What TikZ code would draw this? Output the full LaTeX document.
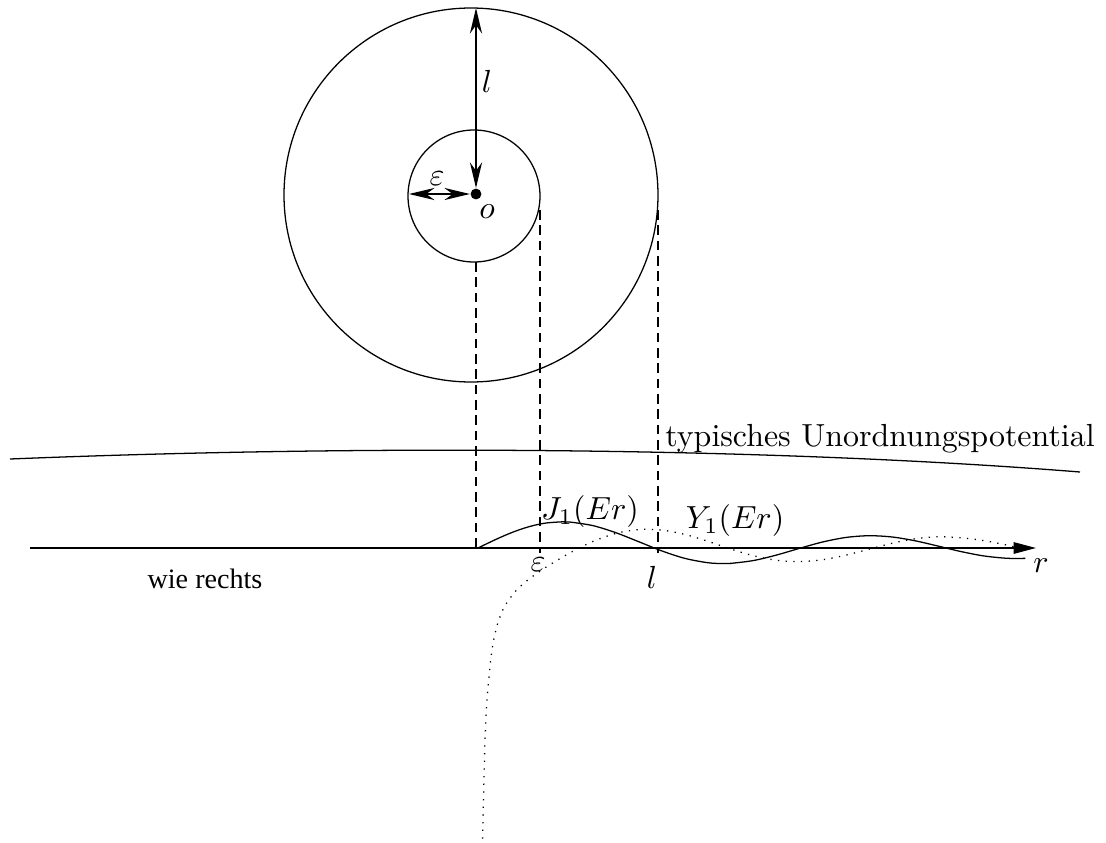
\documentclass[tikz,border=0pt]{standalone}
\usepackage{fontspec}
\newfontfamily\wiefont{Liberation Serif}
\usetikzlibrary{arrows.meta}

\begin{document}
\begin{tikzpicture}[x=0.011cm, y=-0.011cm,
  label/.style={inner sep=1pt},
  dot/.style={circle, fill, inner sep=0pt, minimum size=3.4pt},
  dimarrow/.style={{Stealth[length=8pt,width=3.8pt]}-{Stealth[length=8pt,width=3.8pt]}, thin},
  axisarrow/.style={-{Triangle[length=7pt,width=3.6pt]}, thin},
  proj/.style={thin, dash pattern=on 3pt off 1.8pt}
]

\useasboundingbox (0,0) rectangle (1106,843);

% circles round o
\node[dot] (o) at (476,194) {};
\draw (471,195) circle[radius=187];
\draw (474,196) circle[radius=66];

\coordinate (ltop) at (476,8);
\coordinate (epsleft) at (409,194);
\draw[dimarrow] (ltop) -- (o);
\draw[dimarrow] (epsleft) -- (o);

\node[label] (lupper) at (487,81) {$l$};
\node[label] (epsupper) at (437,179) {$\varepsilon$};
\node[label] (olab) at (487,212) {$o$};

% potential
\coordinate (potL) at (10,459);
\coordinate (potR) at (1080,472);
\draw (potL) .. controls (380,444) and (780,448) .. (potR);
\node[label] (potlab) at (880,439) {typisches Unordnungspotential};

% r axis
\coordinate (axL) at (30,548);
\coordinate (axR) at (1036,548);
\draw[axisarrow] (axL) -- (axR);
\node[label] (rlab) at (1041,566) {$r$};
\node[label] (wie) at (205,579) {\wiefont\fontsize{8.8}{10}\selectfont wie rechts};
\node[label] (epslow) at (538,565) {$\varepsilon$};
\node[label] (llow) at (652,577) {$l$};

% projections
\coordinate (p1a) at (476,262);
\coordinate (p1b) at (476,553);
\coordinate (p2a) at (540,210);
\coordinate (p2b) at (540,553);
\coordinate (p3a) at (658,210);
\coordinate (p3b) at (658,553);
\draw[proj] (p1a) -- (p1b);
\draw[proj] (p2a) -- (p2b);
\draw[proj] (p3a) -- (p3b);

% Bessel functions
\begin{scope}[shift={(478,548)}, x=0.506cm, y=0.495cm]
\draw plot[smooth] coordinates {(0,0) (0.25,0.124) (0.5,0.2423) (0.75,0.3492) (1,0.4401) (1.25,0.5106) (1.5,0.5579) (1.84,0.5819) (2,0.5767) (2.5,0.4971) (3,0.3391) (3.5,0.1374) (4,-0.066) (4.5,-0.2311) (5,-0.3276) (5.33,-0.3461) (5.5,-0.3414) (6,-0.2767) (6.5,-0.1538) (7,-0.0047) (7.5,0.1352) (8,0.2346) (8.5,0.2731) (9,0.2453) (9.5,0.1613) (10,0.0435) (10.5,-0.0789) (11,-0.1768) (11.5,-0.2284) (11.9,-0.230)};
\draw[dotted] plot[smooth] coordinates {(0.1,-6.459) (0.15,-4.36) (0.2,-3.324) (0.3,-2.293) (0.4,-1.781) (0.5,-1.471) (0.6,-1.260) (0.8,-0.978) (1,-0.7812) (1.2,-0.6211) (1.5,-0.4123) (2,-0.107) (2.5,0.1459) (3,0.3247) (3.5,0.4102) (4,0.3979) (4.5,0.3010) (5,0.1479) (5.5,-0.0238) (6,-0.175) (6.5,-0.2741) (7,-0.3027) (7.5,-0.2591) (8,-0.1581) (8.5,-0.0271) (9,0.1043) (9.5,0.2056) (10,0.249) (10.5,0.2279) (11,0.1637) (11.5,0.065) (11.75,0)};
\end{scope}
\node[label] (jlab) at (590,512) {$J_1(Er)$};
\node[label] (ylab) at (735,521) {$Y_1(Er)$};

\end{tikzpicture}
\end{document}
